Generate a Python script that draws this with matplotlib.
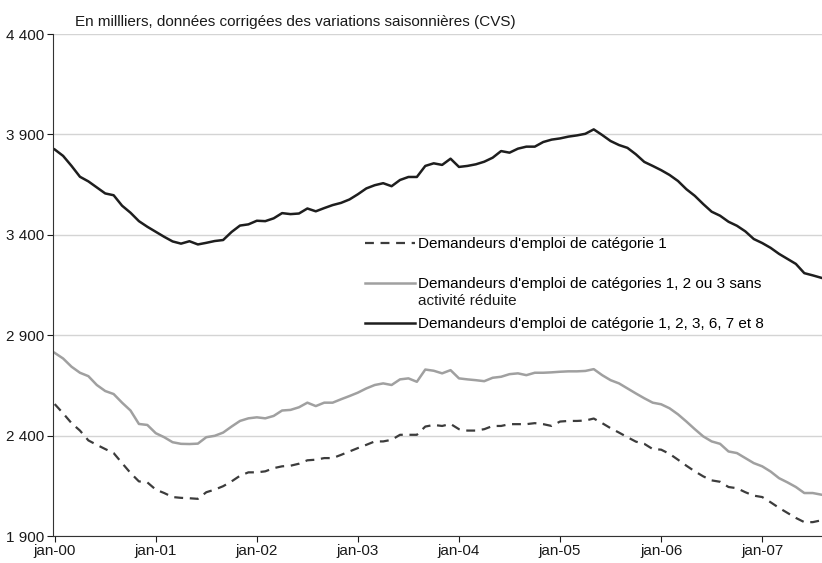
import matplotlib.pyplot as plt
import numpy as np

plt.rcParams['font.family'] = ['Liberation Sans Narrow', 'Liberation Sans', 'DejaVu Sans']

# monthly data, jan-00 .. aug-07 (in thousands)
cat1 = [2557, 2511, 2462, 2425, 2376, 2354, 2333, 2313, 2263, 2214, 2172, 2167,
        2131, 2114, 2094, 2090, 2088, 2085, 2118, 2131, 2148, 2172, 2200, 2217,
        2217, 2222, 2238, 2247, 2250, 2260, 2277, 2280, 2288, 2288, 2304, 2321,
        2338, 2354, 2371, 2371, 2379, 2404, 2404, 2404, 2445, 2453, 2448, 2458,
        2432, 2425, 2425, 2432, 2448, 2448, 2457, 2457, 2457, 2462, 2457, 2448,
        2470, 2473, 2473, 2475, 2485, 2462, 2437, 2415, 2392, 2370, 2359, 2333,
        2330, 2309, 2280, 2250, 2222, 2197, 2177, 2170, 2144, 2138, 2118, 2101,
        2094, 2068, 2040, 2015, 1990, 1969, 1969, 1978]

cat123 = [2812, 2784, 2743, 2713, 2696, 2652, 2622, 2607, 2564, 2525, 2458, 2453,
          2412, 2392, 2367, 2359, 2358, 2360, 2392, 2399, 2415, 2445, 2473, 2486,
          2491, 2486, 2498, 2525, 2528, 2541, 2564, 2547, 2564, 2564, 2581, 2597,
          2614, 2635, 2652, 2660, 2652, 2680, 2685, 2668, 2729, 2723, 2710, 2726,
          2685, 2680, 2676, 2671, 2688, 2693, 2706, 2710, 2701, 2713, 2713, 2715,
          2718, 2720, 2720, 2722, 2731, 2701, 2676, 2660, 2635, 2610, 2586, 2564,
          2556, 2536, 2506, 2470, 2432, 2396, 2371, 2359, 2321, 2313, 2288, 2263,
          2247, 2221, 2188, 2167, 2144, 2114, 2114, 2106]

cat_all = [3825, 3793, 3743, 3689, 3666, 3636, 3606, 3597, 3545, 3510, 3468, 3440,
           3415, 3390, 3367, 3356, 3368, 3352, 3360, 3369, 3374, 3414, 3446, 3452,
           3470, 3468, 3482, 3508, 3503, 3506, 3531, 3517, 3533, 3548, 3559, 3576,
           3602, 3631, 3647, 3657, 3642, 3673, 3688, 3688, 3743, 3756, 3748, 3779,
           3738, 3743, 3751, 3764, 3784, 3817, 3809, 3829, 3839, 3839, 3862, 3874,
           3880, 3889, 3895, 3903, 3925, 3897, 3867, 3847, 3833, 3801, 3763, 3743,
           3722, 3698, 3668, 3627, 3594, 3553, 3515, 3495, 3465, 3445, 3417, 3379,
           3359, 3335, 3305, 3280, 3255, 3209, 3198, 3186]

year_labels = ['jan-00', 'jan-01', 'jan-02', 'jan-03', 'jan-04', 'jan-05', 'jan-06', 'jan-07']
labels = ["Demandeurs d'emploi de catégorie 1",
          "Demandeurs d'emploi de catégories 1, 2 ou 3 sans",
          "Demandeurs d'emploi de catégorie 1, 2, 3, 6, 7 et 8"]
label2_cont = "activité réduite"

x = np.arange(len(cat1))
fs = 11

fig = plt.figure(figsize=(8.22, 5.63), dpi=100)
ax = fig.add_axes([53/822, 1 - 536/563, (822 - 53)/822, (536 - 34)/563])

l1, = ax.plot(x, cat1, color='#3c3c3c', lw=1.6, linestyle=(0, (4, 3)), label=labels[0])
l2, = ax.plot(x, cat123, color='#a0a0a0', lw=1.8, label=labels[1])
l3, = ax.plot(x, cat_all, color='#1e1e1e', lw=1.8, label=labels[2])

ax.set_xlim(-0.2, 91.1)
ax.set_ylim(1900, 4400)
ax.set_yticks(np.arange(1900, 4401, 500))
ax.set_yticklabels([f"{v:,}".replace(",", " ") for v in range(1900, 4401, 500)])
ax.set_xticks(np.arange(0, 85, 12))
ax.set_xticklabels(year_labels)
ax.tick_params(labelsize=fs, length=4, width=0.8, colors='#1a1a1a', pad=2)
ax.grid(axis='y', color='#d4d4d4', lw=1)
ax.set_axisbelow(True)
for s in ['top', 'right']:
    ax.spines[s].set_visible(False)
ax.spines['left'].set_color('#333333')
ax.spines['bottom'].set_color('#333333')

fig.text(75/822, 1 - 22/563, "En millliers, données corrigées des variations saisonnières (CVS)",
         fontsize=fs, va='center', color='#1a1a1a')

leg = ax.legend(handles=[l1, l2, l3], loc='upper left', bbox_to_anchor=(365/822, 1 - 237/563),
                bbox_transform=fig.transFigure, frameon=False, fontsize=fs,
                handlelength=3.3, handletextpad=0.2, labelspacing=1.7,
                borderpad=0, borderaxespad=0)

# second line of the wrapped legend label, just under the first one
fig.canvas.draw()
tb = leg.get_texts()[1].get_window_extent()
inv = fig.transFigure.inverted()
x0, y0 = inv.transform((tb.x0, tb.y0 - 17))
fig.text(x0, y0, label2_cont, fontsize=fs, va='bottom', ha='left', color='#1a1a1a')

plt.savefig('out.png', dpi=100)
